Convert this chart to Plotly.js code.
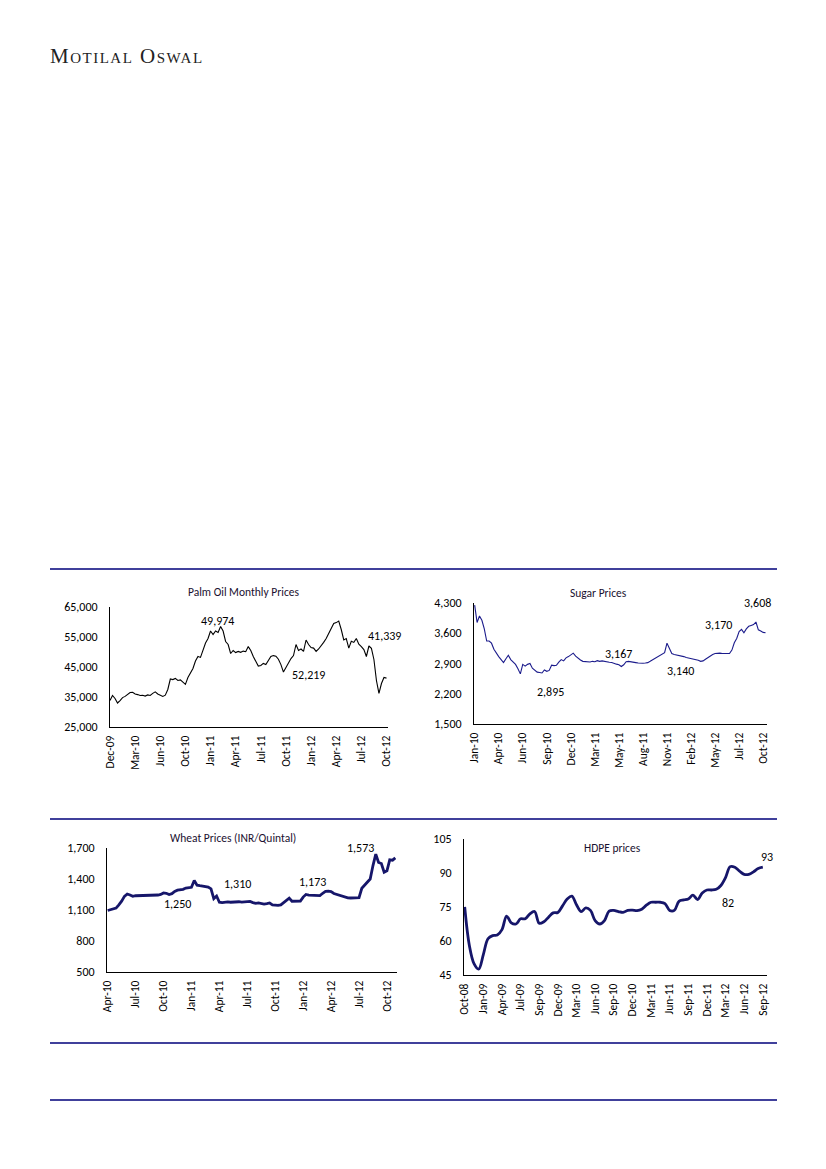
<!DOCTYPE html>
<html><head><meta charset="utf-8">
<script src="https://cdn.plot.ly/plotly-3.0.1.min.js"></script>
<style>
html,body{margin:0;padding:0;background:#fff;}
#chart{position:absolute;left:0;top:0;width:826px;height:1169px;}
#hdr{position:absolute;left:50px;top:44px;font-family:'Liberation Serif','DejaVu Serif',serif;font-variant:small-caps;font-size:21px;letter-spacing:1.5px;color:#222;}
</style></head><body>
<div id="chart"></div>
<div id="hdr">Motilal Oswal</div>
<script>
// ---------- DATA ----------
const palmTicks = ["Dec-09","Mar-10","Jun-10","Oct-10","Jan-11","Apr-11","Jul-11","Oct-11","Jan-12","Apr-12","Jul-12","Oct-12"];
const palmValues = [33800,35500,34500,33000,33800,34800,35200,35800,36500,36600,36000,35800,35500,35600,35300,35700,35500,36200,36700,36000,35700,35200,35600,37500,41000,40800,41200,40500,40700,39800,39200,41500,43000,44500,47000,48500,48200,51000,53000,54500,57000,55800,57000,56500,58500,57000,53500,52500,49500,50500,49800,50200,49900,50300,50100,51800,50500,48500,46800,45300,45500,46200,45800,47200,48500,48800,48600,47600,45800,43300,44800,46600,47800,48800,52500,50500,51000,50200,54000,52500,51500,51300,50200,51000,52000,53200,54500,56000,57800,59500,59800,60300,57500,54000,54500,51300,53600,53200,54500,52600,51800,50800,48500,52000,51200,47500,40500,36200,39500,41500,41300];
const palmLabels = ["49,974","52,219","41,339"];

const sugarTicks = ["Jan-10","Apr-10","Jun-10","Sep-10","Dec-10","Mar-11","May-11","Aug-11","Nov-11","Feb-12","May-12","Jul-12","Oct-12"];
const sugarValues = [4250,3850,4000,3900,3700,3420,3420,3370,3230,3130,3060,2990,2920,3010,3090,2990,2930,2880,2780,2660,2880,2840,2880,2900,2790,2740,2700,2690,2680,2750,2720,2740,2860,2850,2860,2930,2990,2960,3030,3060,3100,3140,3070,3020,2980,2950,2940,2930,2935,2950,2940,2965,2950,2960,2945,2940,2930,2925,2900,2885,2870,2830,2870,2940,2950,2935,2930,2920,2910,2900,2905,2910,2920,2950,2980,3020,3060,3090,3110,3150,3370,3240,3130,3110,3100,3080,3070,3060,3040,3030,3020,3000,2990,2975,2950,2960,3000,3040,3080,3110,3130,3140,3140,3130,3125,3120,3130,3210,3380,3480,3640,3690,3610,3700,3760,3780,3800,3860,3680,3650,3620,3610];
const sugarLabels = ["2,895","3,167","3,140","3,170","3,608"];

const wheatTicks = ["Apr-10","Jul-10","Oct-10","Jan-11","Apr-11","Jul-11","Oct-11","Jan-12","Apr-12","Jul-12","Oct-12"];
const wheatValues = [1095,1105,1110,1118,1150,1185,1232,1255,1245,1232,1238,1238,1240,1238,1240,1238,1240,1238,1245,1250,1265,1262,1250,1258,1280,1292,1296,1300,1312,1315,1320,1385,1340,1335,1330,1328,1322,1305,1210,1235,1175,1172,1178,1178,1175,1178,1176,1180,1176,1178,1180,1183,1172,1165,1168,1160,1158,1162,1168,1150,1145,1145,1150,1170,1195,1215,1185,1183,1185,1186,1225,1250,1243,1242,1240,1242,1240,1262,1280,1282,1278,1260,1250,1245,1232,1225,1218,1216,1215,1216,1220,1310,1340,1378,1400,1530,1640,1560,1550,1465,1480,1585,1582,1605];
const wheatLabels = ["1,250","1,310","1,173","1,573"];

const hdpeTicks = ["Oct-08","Jan-09","Apr-09","Jul-09","Sep-09","Dec-09","Mar-10","Jun-10","Sep-10","Dec-10","Mar-11","Jun-11","Sep-11","Dec-11","Mar-12","Jun-12","Sep-12"];
const hdpeValues = [75,58,50,47.6,54,61,62.4,62.6,65,71,68,67.5,69.8,69.8,72,73,67.8,68.5,70.5,72.4,72.6,75.5,78.5,79.8,76,73,74.6,73.5,69,67.5,69,73.2,73.5,73,72.6,73.5,73.6,73.4,74,75.8,77.1,77.1,77.1,76.5,73.5,73.5,77.5,78.1,78.5,80.2,78.3,81.2,82.5,82.5,82.8,84.5,88,92.8,92.5,90.8,89.4,89.4,90.5,92,92.6];
const hdpeLabels = ["82","93"];
const titles = ["Palm Oil Monthly Prices","Sugar Prices","Wheat Prices (INR/Quintal)","HDPE prices"];

// ---------- LAYOUT HELPERS ----------
const W = 826, H = 1169;
const PX = x => x / W, PY = y => 1 - y / H;
const FONT = "Carlito, Calibri, Lato, 'Liberation Sans', sans-serif";
const idx = arr => arr.map((_, i) => i);

function xa(dom, range, ticks, step) {
  return {domain:[PX(dom[0]),PX(dom[1])], range:range, showgrid:false, zeroline:false,
    showline:true, linecolor:'#000', linewidth:1, ticks:'', tickangle:-90,
    tickmode:'array', tickvals:ticks.map((_, i) => i*step), ticktext:ticks,
    tickfont:{family:FONT,size:11.5,color:'#000'}, ticklabelstandoff:3, fixedrange:true};
}
function ya(dom, range, dtick) {
  return {domain:[PY(dom[1]),PY(dom[0])], range:range, showgrid:false, zeroline:false,
    showline:true, linecolor:'#000', linewidth:1, ticks:'', tick0:range[0], dtick:dtick,
    tickformat:',d', tickfont:{family:FONT,size:12,color:'#000'}, ticklabelstandoff:9, fixedrange:true};
}

const traces = [
  {x:idx(palmValues), y:palmValues, xaxis:'x', yaxis:'y', mode:'lines', line:{color:'#000',width:1.1}},
  {x:idx(sugarValues), y:sugarValues, xaxis:'x2', yaxis:'y2', mode:'lines', line:{color:'#1c1c8c',width:1.1}},
  {x:idx(wheatValues), y:wheatValues, xaxis:'x3', yaxis:'y3', mode:'lines', line:{color:'#16166a',width:2.8}},
  {x:idx(hdpeValues), y:hdpeValues, xaxis:'x4', yaxis:'y4', mode:'lines', line:{color:'#16166a',width:2.8,shape:'spline',smoothing:1}}
];

function ann(text, x, y, size) {
  return {text:text, xref:'paper', yref:'paper', x:PX(x), y:PY(y), showarrow:false,
    xanchor:'center', yanchor:'middle', font:{family:FONT,size:size||12,color:'#000'}};
}
function tAnn(text, x, y) {
  const a = ann(text, x, y, 11.5); a.font.color = '#1a1030'; return a;
}

const annotations = [
  tAnn(titles[0], 243, 592), tAnn(titles[1], 598, 593), tAnn(titles[2], 233, 838), tAnn(titles[3], 612, 848),
  ann(palmLabels[0], 218, 621), ann(palmLabels[1], 308, 675), ann(palmLabels[2], 384, 636),
  ann(sugarLabels[0], 550, 692), ann(sugarLabels[1], 618, 654), ann(sugarLabels[2], 680, 671), ann(sugarLabels[3], 718, 625), ann(sugarLabels[4], 757, 603),
  ann(wheatLabels[0], 177, 904), ann(wheatLabels[1], 237, 884), ann(wheatLabels[2], 312, 882), ann(wheatLabels[3], 360, 848),
  ann(hdpeLabels[0], 728, 903), ann(hdpeLabels[1], 767, 857)
];

const shapes = [569, 819, 1043, 1100].map(y => ({type:'line', xref:'paper', yref:'paper',
  x0:PX(50), x1:PX(777), y0:PY(y), y1:PY(y), line:{color:'#00007a', width:1.3}}));

const layout = {
  width:W, height:H, margin:{l:0,r:0,t:0,b:0}, paper_bgcolor:'#fff', plot_bgcolor:'rgba(0,0,0,0)',
  showlegend:false, font:{family:FONT},
  xaxis: xa([110,388],[0,110.6],palmTicks,10), yaxis: ya([607,727],[25000,65000],10000),
  xaxis2: xa([474,767],[-0.28,121.6],sugarTicks,10), yaxis2: ya([603,724],[1500,4300],700),
  xaxis3: xa([107,397],[-0.24,103.6],wheatTicks,10), yaxis3: ya([848,972],[500,1700],300),
  xaxis4: xa([464,767],[-0.15,64.9],hdpeTicks,4), yaxis4: ya([839,975],[45,105],15),
  annotations:annotations, shapes:shapes
};
layout.xaxis.anchor='y'; layout.yaxis.anchor='x';
layout.xaxis2.anchor='y2'; layout.yaxis2.anchor='x2';
layout.xaxis3.anchor='y3'; layout.yaxis3.anchor='x3';
layout.xaxis4.anchor='y4'; layout.yaxis4.anchor='x4';

Plotly.newPlot('chart', traces, layout, {staticPlot:true, displayModeBar:false});
</script></body></html>
